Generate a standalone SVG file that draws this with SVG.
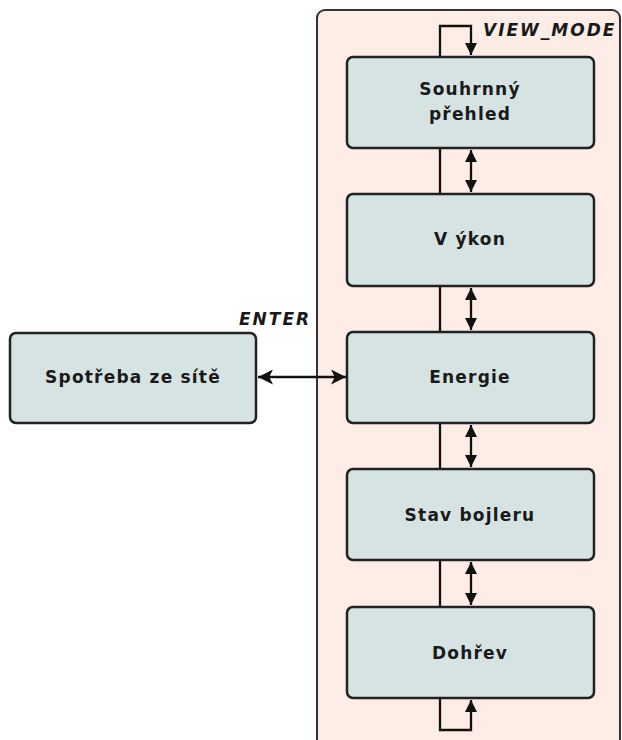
<svg xmlns="http://www.w3.org/2000/svg" width="622" height="740" viewBox="0 0 622 740">
<style>
.node rect{fill:#d6e3e3;stroke:#222;stroke-width:2.5}
.lbl{font-family:"DejaVu Sans",sans-serif;font-weight:bold;font-size:17px;fill:#1a1a1a;text-anchor:middle;letter-spacing:1.2px}
.key{font-family:"DejaVu Sans",sans-serif;font-weight:bold;font-style:italic;font-size:17px;fill:#1a1a1a;letter-spacing:2px}
.c{fill:none;stroke:#111;stroke-width:2.3}
</style>
<defs>
<marker id="ah" viewBox="0 0 10 10" refX="10" refY="5" markerWidth="12" markerHeight="12" markerUnits="userSpaceOnUse" orient="auto-start-reverse">
<path d="M0,0 L10,5 L0,10 z" fill="#111"/>
</marker>
<marker id="ahb" viewBox="0 0 12 12" refX="12" refY="6" markerWidth="15" markerHeight="15" markerUnits="userSpaceOnUse" orient="auto-start-reverse">
<path d="M0,0 L12,6 L0,12 L3,6 z" fill="#111"/>
</marker>
</defs>
<rect id="container" x="317" y="10" width="303" height="760" rx="8" fill="#fdede6" stroke="#333" stroke-width="2"/>
<g id="connectors">
<path class="c" d="M440,57 V26 H471 V55" marker-end="url(#ah)"/>
<path class="c" d="M440,148 V194"/>
<path class="c" d="M471,150 V192" marker-start="url(#ah)" marker-end="url(#ah)"/>
<path class="c" d="M440,286 V332"/>
<path class="c" d="M471,288 V330" marker-start="url(#ah)" marker-end="url(#ah)"/>
<path class="c" d="M440,423 V469"/>
<path class="c" d="M471,425 V467" marker-start="url(#ah)" marker-end="url(#ah)"/>
<path class="c" d="M440,560 V607"/>
<path class="c" d="M471,562 V605" marker-start="url(#ah)" marker-end="url(#ah)"/>
<path class="c" d="M440,698 V730 H471 V700" marker-end="url(#ah)"/>
<path class="c" d="M258,377 H346" marker-start="url(#ahb)" marker-end="url(#ahb)"/>
<text class="key" x="239" y="325">ENTER</text>
<text class="key" x="483" y="36">VIEW_MODE</text>
</g>
<g id="souhrnny" class="node"><rect x="347" y="57" width="247" height="91" rx="6"/><text class="lbl" x="470" y="95">Souhrnný</text><text class="lbl" x="470" y="120">přehled</text></g>
<g id="vykon" class="node"><rect x="347" y="194" width="247" height="92" rx="6"/><text class="lbl" x="470" y="245">V ýkon</text></g>
<g id="energie" class="node"><rect x="347" y="332" width="247" height="91" rx="6"/><text class="lbl" x="470" y="383">Energie</text></g>
<g id="stav" class="node"><rect x="347" y="469" width="247" height="91" rx="6"/><text class="lbl" x="470" y="521">Stav bojleru</text></g>
<g id="dohrev" class="node"><rect x="347" y="607" width="247" height="91" rx="6"/><text class="lbl" x="470" y="659">Dohřev</text></g>
<g id="spotreba" class="node"><rect x="10" y="333" width="246" height="90" rx="6"/><text class="lbl" x="133" y="383">Spotřeba ze sítě</text></g>
</svg>
